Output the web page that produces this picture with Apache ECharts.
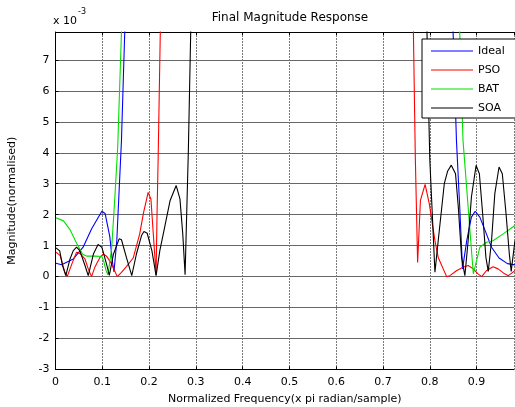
<!DOCTYPE html>
<html>
<head>
<meta charset="utf-8">
<script src="https://cdn.jsdelivr.net/npm/echarts@6/dist/echarts.min.js"></script>
<style>html,body{margin:0;padding:0;background:#fff;}#c{width:515px;height:407px;}</style>
</head>
<body>
<div id="c"></div>
<script>
// Values in units of 1e-3 (normalised magnitude)
const seriesNames = ['Ideal', 'PSO', 'BAT', 'SOA'];
const xTickLabels = ['0', '0.1', '0.2', '0.3', '0.4', '0.5', '0.6', '0.7', '0.8', '0.9'];
const yTickLabels = ['-3', '-2', '-1', '0', '1', '2', '3', '4', '5', '6', '7'];

const idealX = [0.001, 0.013, 0.038, 0.059, 0.077, 0.099, 0.106, 0.116, 0.122, 0.125, 0.131, 0.141, 0.148, 0.156, 0.5, 0.843, 0.85, 0.857, 0.864, 0.87, 0.872, 0.879, 0.889, 0.897, 0.907, 0.921, 0.932, 0.948, 0.966, 0.982];
const idealY = [0.43, 0.38, 0.57, 0.95, 1.54, 2.11, 2.04, 1.3, 0.45, 0.15, 1.16, 4.4, 7.9, 12, 1000, 12, 7.8, 4.4, 2.24, 0.25, 0.2, 1.16, 1.92, 2.11, 1.92, 1.38, 0.95, 0.6, 0.42, 0.38];

const psoX = [0.001, 0.01, 0.02, 0.025, 0.035, 0.045, 0.052, 0.063, 0.07, 0.077, 0.084, 0.095, 0.102, 0.109, 0.12, 0.132, 0.141, 0.152, 0.166, 0.18, 0.188, 0.198, 0.204, 0.215, 0.217, 0.2195, 0.224, 0.228, 0.5, 0.761, 0.765, 0.769, 0.774, 0.78, 0.79, 0.799, 0.811, 0.818, 0.836, 0.843, 0.857, 0.871, 0.882, 0.893, 0.903, 0.911, 0.921, 0.935, 0.946, 0.96, 0.968, 0.982];
const psoY = [0.79, 0.68, 0.14, 0.0, 0.41, 0.79, 0.75, 0.57, 0.25, 0.0, 0.3, 0.62, 0.73, 0.66, 0.41, 0.0, 0.14, 0.33, 0.6, 1.38, 2.05, 2.72, 2.5, 0.05, 2.0, 3.9, 7.9, 12, 1000, 12, 7.9, 3.9, 0.46, 2.46, 2.98, 2.35, 1.16, 0.62, 0.0, 0.03, 0.19, 0.3, 0.36, 0.25, 0.09, 0.0, 0.19, 0.32, 0.25, 0.09, 0.03, 0.19];

const batX = [0.001, 0.017, 0.031, 0.045, 0.058, 0.067, 0.085, 0.099, 0.103, 0.108, 0.112, 0.116, 0.12, 0.127, 0.133, 0.141, 0.147, 0.5, 0.858, 0.864, 0.871, 0.882, 0.893, 0.9, 0.907, 0.921, 0.935, 0.957, 0.982];
const batY = [1.9, 1.8, 1.52, 1.08, 0.72, 0.66, 0.66, 0.65, 0.5, 0.2, 0.06, 0.08, 0.9, 2.6, 4.2, 7.9, 11, 1000, 11, 7.9, 4.4, 2.24, 0.09, 0.52, 0.95, 1.11, 1.16, 1.38, 1.65];

const soaX = [0.001, 0.009, 0.015, 0.022, 0.031, 0.038, 0.045, 0.052, 0.063, 0.07, 0.081, 0.091, 0.099, 0.109, 0.115, 0.124, 0.136, 0.141, 0.152, 0.163, 0.173, 0.184, 0.189, 0.196, 0.206, 0.215, 0.223, 0.234, 0.245, 0.258, 0.266, 0.272, 0.277, 0.284, 0.289, 0.294, 0.5, 0.79, 0.794, 0.8, 0.811, 0.818, 0.831, 0.838, 0.846, 0.855, 0.861, 0.868, 0.875, 0.882, 0.889, 0.899, 0.906, 0.913, 0.92, 0.925, 0.932, 0.939, 0.948, 0.955, 0.963, 0.97, 0.974, 0.982];
const soaY = [0.93, 0.83, 0.36, 0.03, 0.57, 0.84, 0.95, 0.84, 0.36, 0.03, 0.73, 1.04, 0.95, 0.41, 0.04, 0.73, 1.22, 1.19, 0.6, 0.03, 0.73, 1.33, 1.46, 1.4, 0.84, 0.03, 0.84, 1.65, 2.46, 2.94, 2.51, 1.38, 0.06, 4.1, 7.9, 11, 1000, 11, 7.9, 3.8, 0.14, 1.16, 3.0, 3.4, 3.6, 3.32, 2.24, 0.62, 0.03, 1.16, 2.57, 3.59, 3.32, 2.03, 0.62, 0.17, 1.16, 2.68, 3.54, 3.32, 2.03, 0.73, 0.17, 1.16];

const seriesX = [idealX, psoX, batX, soaX];
const seriesY = [idealY, psoY, batY, soaY];
const seriesColors = ['#0000ff', '#ff0000', '#00e000', '#000000'];

const FONT = 'DejaVu Sans';
const chart = echarts.init(document.getElementById('c'), null, {renderer: 'canvas'});

function xLabel(v) {
  const r = Math.round(v * 10);
  if (Math.abs(v * 10 - r) > 1e-6) return '';
  return xTickLabels[r] !== undefined ? xTickLabels[r] : '';
}
function yLabel(v) {
  const r = Math.round(v);
  if (Math.abs(v - r) > 1e-6) return '';
  const idx = r + 3;
  return yTickLabels[idx] !== undefined ? yTickLabels[idx] : '';
}

const option = {
  animation: false,
  backgroundColor: '#ffffff',
  title: {
    text: 'Final Magnitude Response',
    left: 285, top: 7, textAlign: 'center',
    textStyle: {fontFamily: FONT, fontSize: 12, fontWeight: 'normal', color: '#000'}
  },
  graphic: [{
    type: 'text', left: 53, top: 8,
    style: {
      text: '{a|x 10}{b|-3}',
      rich: {
        a: {fontFamily: FONT, fontSize: 11, fill: '#000', padding: [8, 0, 0, 0]},
        b: {fontFamily: FONT, fontSize: 8, fill: '#000', verticalAlign: 'top', padding: [0, 0, 8, 1]}
      }
    }
  }],
  legend: {
    data: seriesNames,
    orient: 'vertical',
    left: 422, top: 39,
    padding: [5, 30, 3, 9],
    itemGap: 5,
    itemWidth: 42, itemHeight: 1,
    icon: 'rect',
    backgroundColor: '#ffffff',
    borderColor: '#000', borderWidth: 1,
    borderRadius: 0,
    textStyle: {fontFamily: FONT, fontSize: 11, color: '#000', lineHeight: 14}
  },
  grid: {left: 55.5, right: 1, top: 32, bottom: 37.5, containLabel: false, outerBoundsMode: 'none'},
  xAxis: [{
    type: 'value', min: 0, max: 0.98, interval: 0.1, position: 'bottom',
    axisLine: {show: true, onZero: false, lineStyle: {color: '#000', width: 1}},
    axisTick: {show: true, inside: true, length: 3, lineStyle: {color: '#000'}},
    axisLabel: {formatter: xLabel, color: '#000', fontFamily: FONT, fontSize: 11, margin: 7, showMaxLabel: false},
    splitLine: {show: true, lineStyle: {color: '#7a7a7a', width: 1, type: [2, 1]}},
    name: 'Normalized Frequency(x pi radian/sample)',
    nameLocation: 'middle', nameGap: 24,
    nameTextStyle: {fontFamily: FONT, fontSize: 11, color: '#000'}
  }, {
    type: 'value', min: 0, max: 0.98, interval: 0.1, position: 'top',
    axisLine: {show: true, onZero: false, lineStyle: {color: '#000', width: 1}},
    axisTick: {show: true, inside: true, length: 3, lineStyle: {color: '#000'}},
    axisLabel: {show: false},
    splitLine: {show: false}
  }],
  yAxis: [{
    type: 'value', min: -3, max: 7.9, interval: 1,
    axisLine: {show: true, onZero: false, lineStyle: {color: '#000', width: 1}},
    axisTick: {show: true, inside: true, length: 3, lineStyle: {color: '#000'}},
    axisLabel: {formatter: yLabel, color: '#000', fontFamily: FONT, fontSize: 11, margin: 6, showMaxLabel: false},
    splitLine: {show: true, lineStyle: {color: '#666', width: 1}},
    name: 'Magnitude(normalised)',
    nameLocation: 'middle', nameGap: 38, nameRotate: 90,
    nameTextStyle: {fontFamily: FONT, fontSize: 11, color: '#000'}
  }],
  series: seriesNames.map((name, i) => ({
    name: name,
    type: 'line',
    xAxisIndex: 0,
    yAxisIndex: 0,
    clip: true,
    showSymbol: false,
    symbol: 'none',
    smooth: false,
    color: seriesColors[i],
    lineStyle: {color: seriesColors[i], width: 1.1},
    data: seriesX[i].map((x, j) => [x, seriesY[i][j]])
  }))
};
chart.setOption(option);
</script>
</body>
</html>
